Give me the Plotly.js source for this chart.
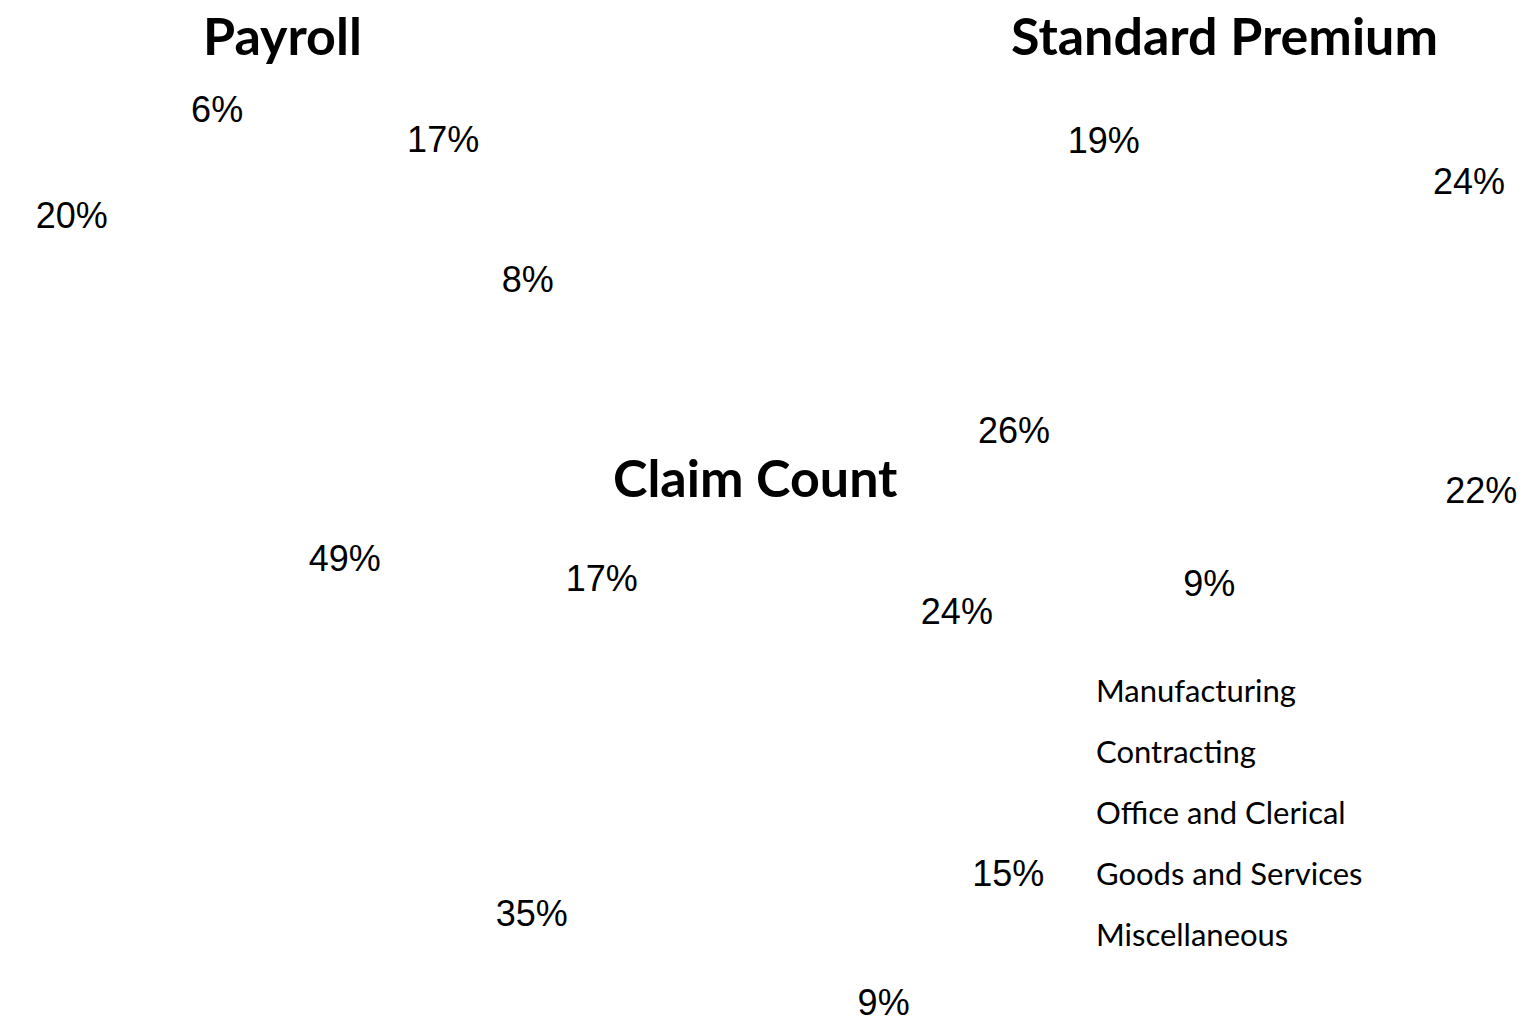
<!DOCTYPE html>
<html>
<head>
<meta charset="utf-8">
<script src="https://cdn.plot.ly/plotly-3.0.1.min.js"></script>
<style>
  html, body { margin: 0; padding: 0; background: #ffffff; }
  #chart { width: 1538px; height: 1024px; }
</style>
</head>
<body>
<div id="chart"></div>
<script>
// ---- Data ----
const categories = ["Manufacturing", "Contracting", "Office and Clerical", "Goods and Services", "Miscellaneous"];
const payroll = [17, 8, 49, 20, 6];
const standardPremium = [24, 22, 9, 26, 19];
const claimCount = [24, 15, 9, 35, 17];
const pieTitles = ["Payroll", "Standard Premium", "Claim Count"];

// ---- Layout helpers ----
const W = 1538, H = 1024;
function dom(cx, cy, r) {
  return {
    x: [(cx - r) / W, (cx + r) / W],
    y: [(H - cy - r) / H, (H - cy + r) / H]
  };
}
const pieSpecs = [
  { values: payroll,         d: dom(292, 332, 206),  rot: 0, title: [282, 35] },
  { values: standardPremium, d: dom(1264, 344, 220), rot: 3, title: [1224, 35] },
  { values: claimCount,      d: dom(760, 783, 220),  rot: 0, title: [755, 477] }
];

const white = categories.map(() => "#ffffff");

const traces = pieSpecs.map((p, i) => ({
  type: "pie",
  name: pieTitles[i],
  labels: categories,
  values: p.values,
  domain: p.d,
  sort: false,
  direction: "clockwise",
  rotation: p.rot,
  marker: { colors: white, line: { color: "#ffffff", width: 0 } },
  texttemplate: "%{value}%",
  textposition: "outside",
  outsidetextfont: { family: "Liberation Sans, Arial, sans-serif", size: 36, color: "#000000" },
  hoverinfo: "skip",
  showlegend: false
}));

const annotations = [];
pieSpecs.forEach((p, i) => {
  annotations.push({
    xref: "paper", yref: "paper",
    x: p.title[0] / W, y: 1 - p.title[1] / H,
    xanchor: "center", yanchor: "middle",
    borderpad: 0,
    showarrow: false,
    text: "<b>" + pieTitles[i] + "</b>",
    font: { family: "Lato, Open Sans, sans-serif", size: 52, color: "#000000" }
  });
});
// legend text (no visible swatches in the reference)
categories.forEach((c, k) => {
  annotations.push({
    xref: "paper", yref: "paper",
    x: 1094 / W, y: 1 - (690 + k * 61) / H,
    xanchor: "left", yanchor: "middle",
    showarrow: false,
    text: c,
    font: { family: "Lato, Open Sans, sans-serif", size: 31, color: "#000000" }
  });
});

const layout = {
  width: W, height: H,
  margin: { l: 0, r: 0, t: 0, b: 0 },
  paper_bgcolor: "#ffffff",
  plot_bgcolor: "#ffffff",
  showlegend: false,
  annotations: annotations
};

Plotly.newPlot("chart", traces, layout, { displayModeBar: false, staticPlot: true });
</script>
</body>
</html>
